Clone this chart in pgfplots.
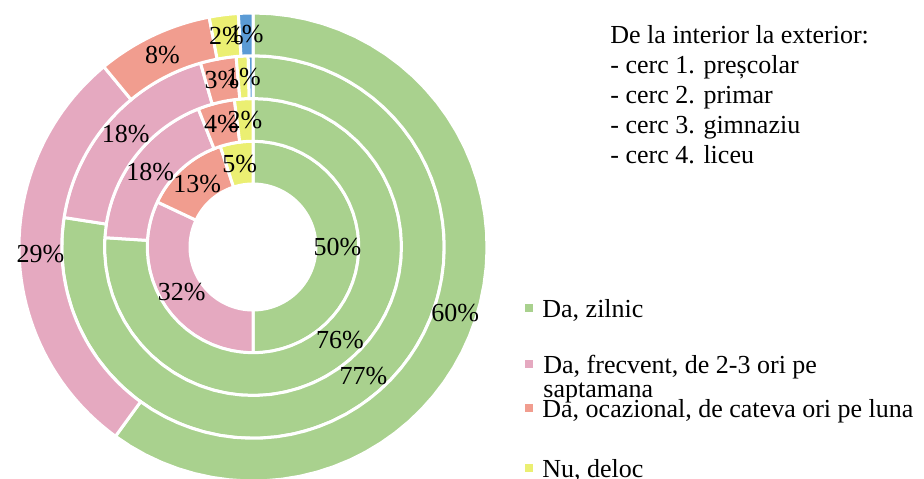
\documentclass[border=0pt]{standalone}
\usepackage{fontspec}
\setmainfont{Liberation Serif}
\usepackage{pgfplots}
\pgfplotsset{compat=1.18}
\usepackage{pgfplotstable}

\definecolor{colz}{HTML}{A9D18E}
\definecolor{colf}{HTML}{E5A9C0}
\definecolor{colo}{HTML}{F19D8F}
\definecolor{coln}{HTML}{EBEF72}
\definecolor{colb}{HTML}{5B9BD5}

% shares per ring, from the inner ring (prescolar) to the outer one (liceu)
% z = zilnic, f = frecvent, o = ocazional, n = deloc, b = thin unlabelled slice
\pgfplotstableread{
ring z  f  o  n b
1    50 32 13 5 0
2    76 18 4  2 0
3    77 18 3  1 0.4
4    60 29 8  2 1
}\rings

\tikzset{lbl/.style={font=\fontsize{13}{15}\selectfont, inner sep=0pt}}

% one ring of slices, clockwise from 12 o'clock; centre at (253,231), units = px
% parameter: 0..50 runs along the outer arc, 100..150 back along the inner arc
\newcommand\ring[1]{%
  \pgfmathsetmacro\Ri{63+42.75*#1}%
  \pgfmathsetmacro\Ro{\Ri+42.75}%
  \def\tot{0}%
  \pgfplotsforeachungrouped \cat in {z,f,o,n,b}{%
    \pgfplotstablegetelem{#1}{\cat}\of\rings
    \pgfmathsetmacro\tot{\tot+\pgfplotsretval}}%
  \def\start{0}%
  \pgfplotsforeachungrouped \cat in {z,f,o,n,b}{%
    \pgfplotstablegetelem{#1}{\cat}\of\rings
    \let\val\pgfplotsretval
    \ifdim\val pt>0pt
      \edef\doit{\noexpand\addplot[forget plot, fill=col\cat, draw=white, line width=1.5pt,
        samples at={0,1,...,50,100,101,...,150}]
        ({253+((x<75)*\Ro+(x>75)*\Ri)*cos(90-360*(\start+\val*((x<75)*x+(x>75)*(150-x))/50)/\tot)},
         {231+((x<75)*\Ro+(x>75)*\Ri)*sin(90-360*(\start+\val*((x<75)*x+(x>75)*(150-x))/50)/\tot)}) -- cycle;}%
      \doit
    \fi
    \pgfmathsetmacro\start{\start+\val}}%
}

% percentage labels in the middle of each slice
\newcommand\lbls[1]{%
  \pgfmathsetmacro\Ri{63+42.75*#1}%
  \pgfmathsetmacro\Ro{\Ri+42.75}%
  \def\tot{0}%
  \pgfplotsforeachungrouped \cat in {z,f,o,n,b}{%
    \pgfplotstablegetelem{#1}{\cat}\of\rings
    \pgfmathsetmacro\tot{\tot+\pgfplotsretval}}%
  \def\start{0}%
  \pgfplotsforeachungrouped \cat in {z,f,o,n,b}{%
    \pgfplotstablegetelem{#1}{\cat}\of\rings
    \let\val\pgfplotsretval
    \ifdim\val pt>0.5pt
      \pgfmathsetmacro\ang{90-(\start+\val/2)/\tot*360}%
      \pgfmathsetmacro\lx{253+(\Ri+\Ro)/2*cos(\ang)}%
      \pgfmathsetmacro\ly{231+(\Ri+\Ro)/2*sin(\ang)}%
      \pgfmathtruncatemacro\lab{round(\val)}%
      \edef\doit{\noexpand\node[lbl] at (axis cs:\lx,\ly) {\lab\noexpand\%};}%
      \doit
    \fi
    \pgfmathsetmacro\start{\start+\val}}%
}

\begin{document}
\begin{tikzpicture}
\begin{axis}[
  width=462pt, height=239pt, scale only axis,
  xmin=0, xmax=924, ymin=0, ymax=478,
  hide axis,
  legend style={at={(axis cs:525,189)}, anchor=north west, draw=none, fill=none,
    inner sep=0pt, row sep=0pt, font=\fontsize{13}{15}\selectfont,
    cells={anchor=base west}, nodes={inner sep=0pt, text depth={}},
    /tikz/every odd column/.style={column sep=4.5pt}},
  legend image code/.code={\fill[#1] (0pt,2.5pt) rectangle (4pt,6.5pt);},
]
\ring{0}\ring{1}\ring{2}\ring{3}
\lbls{0}\lbls{1}\lbls{2}\lbls{3}

\addlegendimage{fill=colz, draw=none}
\addlegendentry{\rule[-14pt]{0pt}{28pt}Da, zilnic}
\addlegendimage{fill=colf, draw=none}
\addlegendentry{\rule[-8pt]{0pt}{22pt}\rlap{\smash{\parbox[t]{180pt}{\fontsize{13}{12}\selectfont Da, frecvent, de 2-3 ori pe\\saptamana}}}}
\addlegendimage{fill=colo, draw=none}
\addlegendentry{\rule[-16pt]{0pt}{30pt}Da, ocazional, de cateva ori pe luna}
\addlegendimage{fill=coln, draw=none}
\addlegendentry{\rule[-1pt]{0pt}{15pt}Nu, deloc}

\node[anchor=north west, align=left, inner sep=0pt, font=\fontsize{13}{15}\selectfont]
  at (axis cs:610,453) {De la interior la exterior:\\- cerc 1. preșcolar\\- cerc 2. primar\\- cerc 3. gimnaziu\\- cerc 4. liceu};
\end{axis}
\pgfresetboundingbox
\useasboundingbox (current axis.south west) rectangle (current axis.north east);
\end{tikzpicture}
\end{document}
